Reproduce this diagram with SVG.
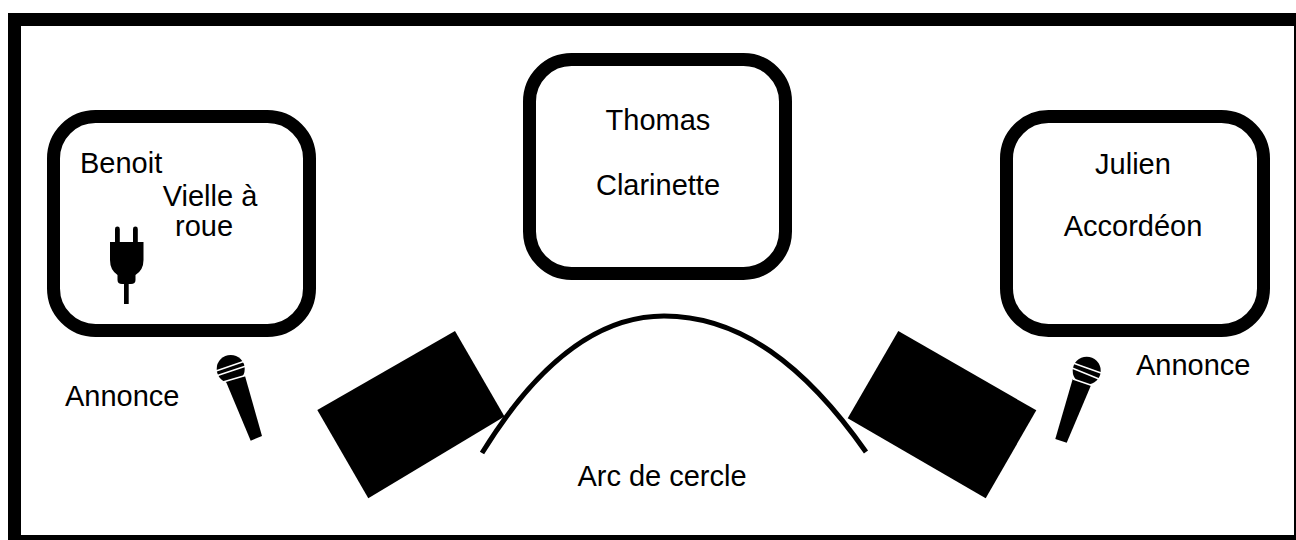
<svg xmlns="http://www.w3.org/2000/svg" width="1296" height="540" viewBox="0 0 1296 540">
<style>
.box{fill:none;stroke:#000;stroke-width:13}
.t{font-family:"Liberation Sans",Arial,sans-serif;font-size:29px;fill:#000}
.m{text-anchor:middle}
.stripe{stroke:#fff;stroke-width:1.4;fill:none}
</style>
<rect width="1296" height="540" fill="#fff"/>
<rect id="frame" class="box" x="14.5" y="19.5" width="1286" height="522"/>
<g id="benoit">
<rect class="box" x="53.5" y="116.5" width="256" height="214" rx="42" ry="42"/>
<text class="t" x="80" y="173">Benoit</text>
<text class="t m" x="210" y="206">Vielle à</text>
<text class="t m" x="204" y="236">roue</text>
</g>
<g id="prise">
<path d="M115 242V229a2.4 2.4 0 0 1 4.800 0V242H133V229a2.400 2.400 0 0 1 4.800 0V242H143.500V260Q143.500 270 135.500 275V280Q135.500 284 131 284H128.700V304H124V284H122Q117.500 284 117.500 280V275Q110 270 110 260V242Z" fill="#000"/>
</g>
<g id="thomas">
<rect class="box" x="529.500" y="59.500" width="256" height="214" rx="42" ry="42"/>
<text class="t m" x="658" y="130">Thomas</text>
<text class="t m" x="658" y="195">Clarinette</text>
</g>
<g id="julien">
<rect class="box" x="1006.500" y="116.500" width="257" height="214" rx="42" ry="42"/>
<text class="t m" x="1133" y="174">Julien</text>
<text class="t m" x="1133" y="236">Accordéon</text>
</g>
<g id="ampli-gauche"><polygon points="455,331 504.500,416.500 368.300,498.300 317.300,410" fill="#000"/></g>
<g id="ampli-droit"><polygon points="898.300,331 1036.300,410.300 985.700,498.300 847.700,418.300" fill="#000"/></g>
<g id="connectors">
<path d="M482 453C530 375 590 316 664 316C740 316 805 365 866 452" fill="none" stroke="#000" stroke-width="5"/>
</g>
<g id="micro-gauche">
<circle cx="230.700" cy="369" r="14" fill="#000"/>
<polygon points="225.700,381 245,376 262,436 250.700,440.700" fill="#000"/>
<path class="stripe" d="M216 371L245 361M216 376L246 366M223 382L247 375"/>
<text class="t" x="65" y="406">Annonce</text>
</g>
<g id="micro-droit">
<circle cx="1086.700" cy="370.700" r="14" fill="#000"/>
<polygon points="1072.700,379 1091,385.300 1066.700,442.700 1055.300,439" fill="#000"/>
<path class="stripe" d="M1073 363L1101 373M1072 368L1099 379M1073 379L1092 385.500"/>
<text class="t" x="1136" y="375">Annonce</text>
</g>
<text class="t m" x="662" y="486">Arc de cercle</text>
</svg>
